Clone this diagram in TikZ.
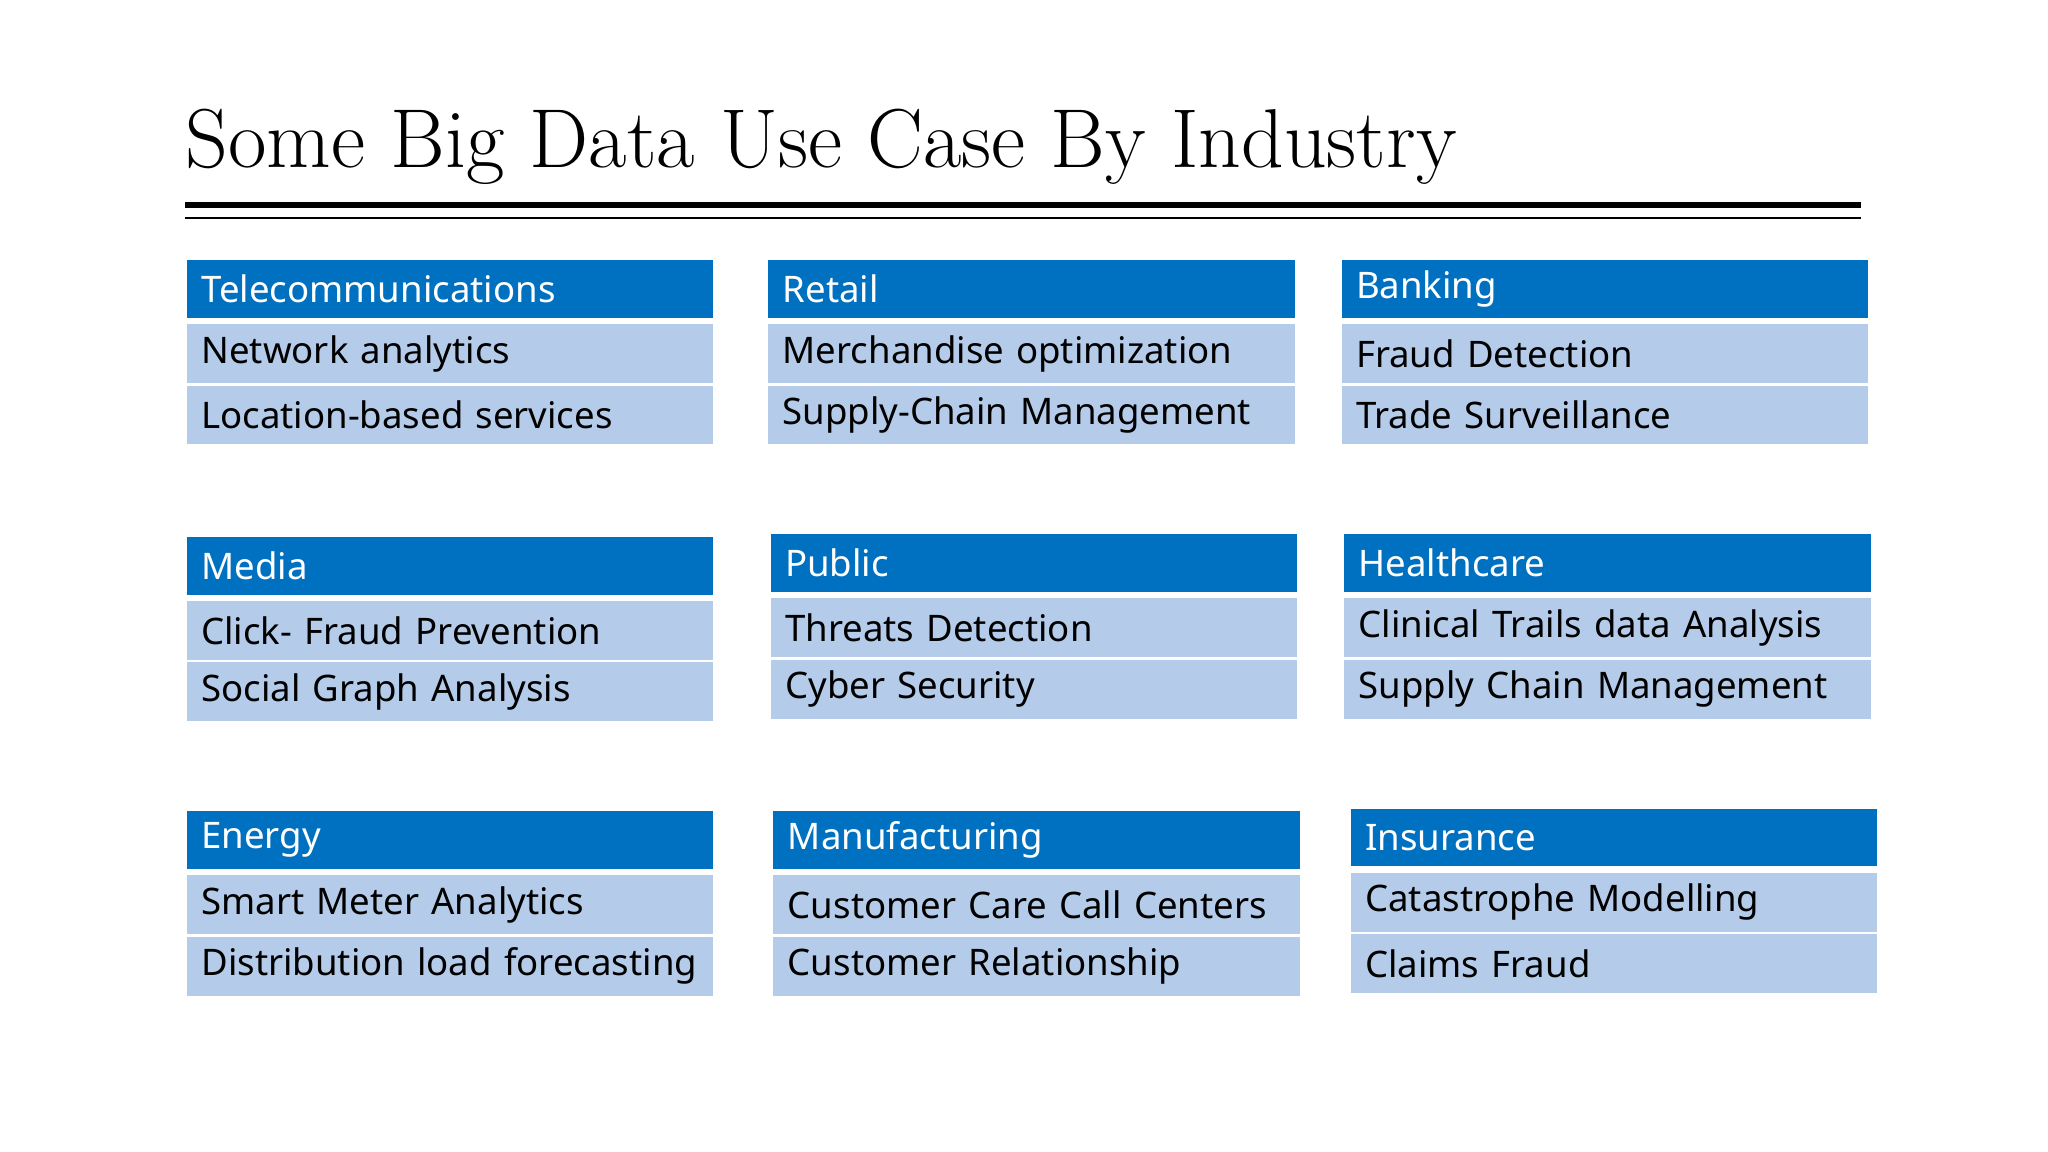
\documentclass[tikz,border=0pt]{standalone}
\usepackage{fontspec}
\setmainfont{Noto Sans}
\newfontfamily\titlefont{Latin Modern Roman}
\definecolor{hdr}{HTML}{0070C0}
\definecolor{rowc}{HTML}{B4CCEA}
\tikzset{
 hdrbox/.style={fill=hdr,text=white,anchor=north west,minimum width=403pt,minimum height=44pt,inner xsep=11pt,inner ysep=0pt,text width=381pt,align=left,font=\fontsize{28}{30}\selectfont},
 rowbox/.style={fill=rowc,text=black,anchor=north west,minimum width=403pt,minimum height=45pt,inner xsep=11pt,inner ysep=0pt,text width=381pt,align=left,font=\fontsize{28}{30}\selectfont},
}
\newcommand{\grp}[6]{%
 \node[hdrbox] (#1h) at (#2pt,-#3pt) {#4};
 \node[rowbox] (#1a) at (#2pt,-#3pt-49pt) {#5};
 \node[rowbox] (#1b) at (#2pt,-#3pt-96pt) {#6};
}
\begin{document}
\begin{tikzpicture}[x=1pt,y=1pt]
\useasboundingbox (0,0) rectangle (1568,-882);
\node[anchor=base west,inner sep=0pt,font=\titlefont\fontsize{64}{66}\selectfont] (title) at (142,-128) {Some Big Data Use Case By Industry};
\coordinate (l1a) at (142,-157); \coordinate (l1b) at (1425,-157);
\coordinate (l2a) at (142,-167); \coordinate (l2b) at (1425,-167);
\draw[line width=4pt] (l1a) -- (l1b);
\draw[line width=1.5pt] (l2a) -- (l2b);
\grp{tel}{143}{199}{Telecommunications}{Network analytics}{Location-based services}
\grp{ret}{588}{199}{Retail}{Merchandise optimization}{Supply-Chain Management}
\grp{ban}{1027}{199}{Banking}{Fraud Detection}{Trade Surveillance}
\grp{med}{143}{411}{Media}{Click- Fraud Prevention}{Social Graph Analysis}
\grp{pub}{590}{409}{Public}{Threats Detection}{Cyber Security}
\grp{hea}{1029}{409}{Healthcare}{Clinical Trails data Analysis}{Supply Chain Management}
\grp{ene}{143}{621}{Energy}{Smart Meter Analytics}{Distribution load forecasting}
\grp{man}{592}{621}{Manufacturing}{Customer Care Call Centers}{Customer Relationship}
\grp{ins}{1034}{619}{Insurance}{Catastrophe Modelling}{Claims Fraud}
\end{tikzpicture}
\end{document}
